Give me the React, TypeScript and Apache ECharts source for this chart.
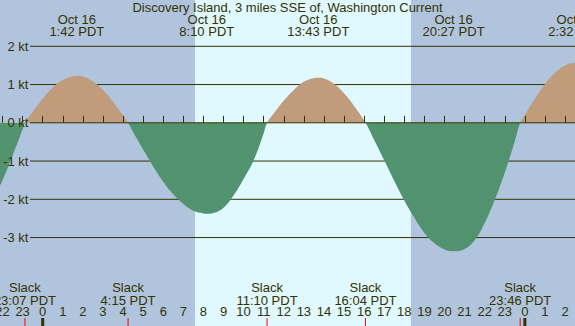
import React, { useEffect, useRef } from "react";
import * as echarts from "echarts";

const TITLE = "Discovery Island, 3 miles SSE of, Washington Current";

// hours relative to Oct 16 00:00 PDT, current speed in knots (flood +, ebb -)
const sampleHours = [
  -2.5, -2.0, -1.5, -1.0, -0.883, -0.5, 0, 0.5, 1.0, 1.5, 1.7, 2.0, 2.5, 3.0, 3.5, 4.0, 4.25,
  4.5, 5.0, 5.5, 6.0, 6.5, 7.0, 7.5, 8.0, 8.167, 8.5, 9.0, 9.5, 10.0, 10.5, 11.0, 11.167,
  11.5, 12.0, 12.5, 13.0, 13.5, 13.717, 14.0, 14.5, 15.0, 15.5, 16.067,
  16.5, 17.0, 17.5, 18.0, 18.5, 19.0, 19.5, 20.0, 20.5, 21.0, 21.5, 22.0, 22.5, 23.0, 23.5, 23.767,
  24.0, 24.5, 25.0, 25.5, 26.0, 26.5, 27.0,
];
const speedKt = [
  -2.03, -1.5, -0.86, -0.17, 0, 0.28, 0.63, 0.92, 1.12, 1.22, 1.23, 1.21, 1.08, 0.86, 0.55, 0.19, 0,
  -0.24, -0.7, -1.14, -1.54, -1.87, -2.12, -2.3, -2.37, -2.38, -2.36, -2.22, -1.9, -1.47, -0.98, -0.27, 0,
  0.24, 0.58, 0.86, 1.07, 1.17, 1.18, 1.16, 1.02, 0.77, 0.44, 0,
  -0.45, -0.98, -1.52, -2.03, -2.48, -2.88, -3.15, -3.31, -3.36, -3.3, -3.07, -2.62, -2.02, -1.3, -0.48, 0,
  0.21, 0.63, 1.01, 1.31, 1.5, 1.57, 1.55,
];

const maxHours = [1.7, 8.1667, 13.7167, 20.45, 26.5333];
const maxDates = ["Oct 16", "Oct 16", "Oct 16", "Oct 16", "Oct 17"];
const maxTimes = ["1:42 PDT", "8:10 PDT", "13:43 PDT", "20:27 PDT", "2:32 PDT"];

const slackHours = [-0.8833, 4.25, 11.1667, 16.0667, 23.7667];
const slackTimes = ["23:07 PDT", "4:15 PDT", "11:10 PDT", "16:04 PDT", "23:46 PDT"];

const midnightHours = [0, 24];
const sunriseHour = 7.58;
const sunsetHour = 18.33;

const gridKt = [2, 1, -1, -2, -3];
const yLabelKt = [2, 1, 0, -1, -2, -3];

const FONT = "'Liberation Sans', Arial, Helvetica, sans-serif";
const INK = "#333300";
const NIGHT = "#b0c4de";
const DAY = "#e0f8ff";
const FLOOD = "#c09c7c";
const EBB = "#52936f";

function buildOption(useVisualMap: boolean): any {
  const curve = sampleHours.map((t, i) => [t, speedKt[i]]);
  const textStyle = { color: INK, fontSize: 13, fontFamily: FONT };
  const txt = (text: string, x: number, y: number, align: string) => ({
    type: "text",
    silent: true,
    style: {
      text,
      x,
      y,
      fill: INK,
      fontSize: 13,
      fontFamily: FONT,
      align,
      verticalAlign: "middle",
      lineHeight: 12.5,
    },
  });

  const curveSeries: any[] = useVisualMap
    ? [
        {
          type: "line",
          data: curve,
          smooth: 0.4,
          symbol: "none",
          showSymbol: false,
          lineStyle: { width: 0 },
          areaStyle: { opacity: 1 },
          z: 3,
          silent: true,
        },
      ]
    : [
        {
          type: "line",
          data: curve.map(([t, v]) => [t, Math.max(v, 0)]),
          smooth: 0.4,
          symbol: "none",
          lineStyle: { width: 0 },
          areaStyle: { opacity: 1, color: FLOOD },
          itemStyle: { color: FLOOD },
          z: 3,
          silent: true,
        },
        {
          type: "line",
          data: curve.map(([t, v]) => [t, Math.min(v, 0)]),
          smooth: 0.4,
          symbol: "none",
          lineStyle: { width: 0 },
          areaStyle: { opacity: 1, color: EBB },
          itemStyle: { color: EBB },
          z: 3,
          silent: true,
        },
      ];

  const option: any = {
    animation: false,
    backgroundColor: NIGHT,
    title: {
      text: TITLE,
      left: "center",
      top: 0,
      padding: 0,
      textStyle: { ...textStyle, fontWeight: "normal", lineHeight: 15 },
    },
    grid: {
      left: -17.57,
      right: -10.13,
      top: 0,
      bottom: 0,
      containLabel: false,
      outerBoundsMode: "none",
    },
    xAxis: {
      type: "value",
      min: -3,
      max: 27,
      interval: 1,
      axisLine: { show: false },
      splitLine: { show: false },
      axisTick: { show: true, inside: true, length: 7, lineStyle: { color: INK, width: 1 } },
      axisLabel: {
        show: true,
        inside: true,
        margin: 14.5,
        verticalAlign: "middle",
        ...textStyle,
        formatter: (v: number) => String(((Math.round(v) % 24) + 24) % 24),
      },
      z: 4,
    },
    yAxis: { type: "value", min: -5.3124, max: 3.2105, show: false },
    series: [
      ...curveSeries,
      // daylight band
      {
        type: "custom",
        z: 1,
        silent: true,
        data: [[sunriseHour, sunsetHour]],
        renderItem: (params: any, api: any) => {
          const x1 = api.coord([api.value(0), 0])[0];
          const x2 = api.coord([api.value(1), 0])[0];
          return {
            type: "rect",
            shape: { x: x1, y: 0, width: x2 - x1, height: 326 },
            style: { fill: DAY },
          };
        },
      },
      // grid lines under the fill
      {
        type: "custom",
        z: 2,
        silent: true,
        data: gridKt.map((v) => [0, v]),
        renderItem: (params: any, api: any) => {
          const y = api.coord([0, api.value(1)])[1];
          return {
            type: "line",
            shape: { x1: 30, y1: y, x2: 575, y2: y },
            style: { stroke: INK, lineWidth: 1 },
          };
        },
      },
      // zero line above the fill
      {
        type: "custom",
        z: 5,
        silent: true,
        data: [[0, 0]],
        renderItem: (params: any, api: any) => {
          const y = api.coord([0, api.value(1)])[1];
          return {
            type: "line",
            shape: { x1: 30, y1: y, x2: 575, y2: y },
            style: { stroke: INK, lineWidth: 1 },
          };
        },
      },
      // slack marks (red) and midnight marks (thick)
      {
        type: "custom",
        z: 5,
        silent: true,
        data: [
          ...slackHours.map((t) => [t, 0]),
          ...midnightHours.map((t) => [t, 1]),
        ],
        renderItem: (params: any, api: any) => {
          const x = api.coord([api.value(0), 0])[0];
          const thick = api.value(1) === 1;
          return {
            type: "line",
            shape: { x1: x, y1: 318, x2: x, y2: 326 },
            style: { stroke: thick ? INK : "#ff0000", lineWidth: thick ? 3 : 1 },
          };
        },
      },
      // max current labels (top)
      {
        type: "custom",
        z: 6,
        silent: true,
        data: maxHours.map((t, i) => [t, i]),
        renderItem: (params: any, api: any) => {
          const x = api.coord([api.value(0), 0])[0];
          const i = api.value(1);
          return txt(maxDates[i] + "\n" + maxTimes[i], x, 25.4, "center");
        },
      },
      // slack labels (bottom)
      {
        type: "custom",
        z: 6,
        silent: true,
        data: slackHours.map((t, i) => [t, i]),
        renderItem: (params: any, api: any) => {
          const x = api.coord([api.value(0), 0])[0];
          const i = api.value(1);
          return txt("Slack\n" + slackTimes[i], x, 293.8, "center");
        },
      },
      // y labels
      {
        type: "custom",
        z: 6,
        silent: true,
        data: yLabelKt.map((v) => [0, v]),
        renderItem: (params: any, api: any) => {
          const v = api.value(1);
          const y = api.coord([0, v])[1];
          return txt(v + " kt", 28.5, y, "right");
        },
      },
    ],
  };
  if (useVisualMap) {
    option.visualMap = {
      type: "piecewise",
      show: false,
      dimension: 1,
      seriesIndex: 0,
      pieces: [
        { gt: 0, lte: 50, color: FLOOD },
        { gte: -50, lte: 0, color: EBB },
      ],
    };
  }
  return option;
}

export default function App() {
  const ref = useRef<HTMLDivElement>(null);
  useEffect(() => {
    document.body.style.margin = "0";
    let chart = echarts.init(ref.current as HTMLDivElement, null, { renderer: "svg" });
    try {
      chart.setOption(buildOption(true));
    } catch (e) {
      chart.dispose();
      chart = echarts.init(ref.current as HTMLDivElement, null, { renderer: "svg" });
      chart.setOption(buildOption(false));
    }
    return () => chart.dispose();
  }, []);
  return (
    <div
      ref={ref}
      style={{ position: "fixed", left: 0, top: 0, width: 575, height: 326 }}
    />
  );
}
